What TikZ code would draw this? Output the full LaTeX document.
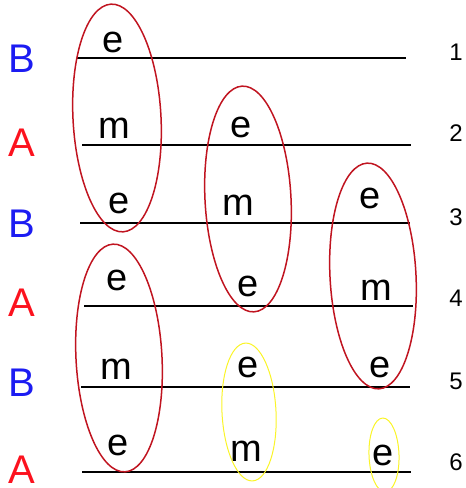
\documentclass[tikz,border=0pt]{standalone}
\usepackage{fontspec}
\setmainfont{Liberation Sans}
\usepackage{xcolor}
\definecolor{deepred}{RGB}{192,20,32}
\definecolor{brightred}{RGB}{252,18,30}
\definecolor{brightblue}{RGB}{28,28,242}
\definecolor{lemon}{RGB}{250,244,40}
\tikzset{
  sym/.style={anchor=base, inner sep=0pt, font=\fontsize{38}{38}\selectfont},
  sideA/.style={sym, text=brightred, font=\fontsize{40}{40}\selectfont},
  sideB/.style={sym, text=brightblue, font=\fontsize{40}{40}\selectfont},
  rowno/.style={anchor=base, inner sep=0pt, font=\fontsize{24}{24}\selectfont},
  rowline/.style={line width=1.8pt},
  group/.style={draw=deepred, line width=1.5pt},
  weak/.style={draw=lemon, line width=1pt},
}

\begin{document}
\begin{tikzpicture}[x=1pt, y=1pt]
  \useasboundingbox (0,0) rectangle (466,488);

  % rows
  \coordinate (l1w) at (77,430);  \coordinate (l1e) at (406,430);
  \coordinate (l2w) at (82,343);  \coordinate (l2e) at (411,343);
  \coordinate (l3w) at (80,265);  \coordinate (l3e) at (410,265);
  \coordinate (l4w) at (84,182);  \coordinate (l4e) at (413,182);
  \coordinate (l5w) at (81,101);  \coordinate (l5e) at (410,101);
  \coordinate (l6w) at (82,16);   \coordinate (l6e) at (411,16);

  \draw[rowline] (l1w) -- (l1e);
  \draw[rowline] (l2w) -- (l2e);
  \draw[rowline] (l3w) -- (l3e);
  \draw[rowline] (l4w) -- (l4e);
  \draw[rowline] (l5w) -- (l5e);
  \draw[rowline] (l6w) -- (l6e);

  % side labels
  \node[sideB] (s1) at (22,415) {B};
  \node[sideA] (s2) at (22,331) {A};
  \node[sideB] (s3) at (22,250) {B};
  \node[sideA] (s4) at (22,171) {A};
  \node[sideB] (s5) at (22,91)  {B};
  \node[sideA] (s6) at (22,5)   {A};

  % row numbers
  \node[rowno] (n1) at (456,427) {1};
  \node[rowno] (n2) at (456,346) {2};
  \node[rowno] (n3) at (456,262) {3};
  \node[rowno] (n4) at (456,181) {4};
  \node[rowno] (n5) at (456,98)  {5};
  \node[rowno] (n6) at (456,17)  {6};

  % symbols
  \node[sym] (a1) at (113,435) {e};
  \node[sym] (a2) at (114,349) {m};
  \node[sym] (a3) at (119,274) {e};
  \node[sym] (a4) at (117,197) {e};
  \node[sym] (a5) at (116,108) {m};
  \node[sym] (a6) at (118,32)  {e};

  \node[sym] (b2) at (241,350) {e};
  \node[sym] (b3) at (238,272) {m};
  \node[sym] (b4) at (248,191) {e};
  \node[sym] (b5) at (248,110) {e};
  \node[sym] (b6) at (246,27)  {m};

  \node[sym] (c3) at (370,279) {e};
  \node[sym] (c4) at (376,187) {m};
  \node[sym] (c5) at (380,110) {e};
  \node[sym] (c6) at (383,23)  {e};

  % groups
  \draw[group] (117,370) ellipse [x radius=44, y radius=114, rotate=3];
  \draw[group] (248,289) ellipse [x radius=43, y radius=113, rotate=3];
  \draw[group] (373,212) ellipse [x radius=43, y radius=113, rotate=3];
  \draw[group] (119,130) ellipse [x radius=43, y radius=114, rotate=3];
  \draw[weak]  (249,76)  ellipse [x radius=27, y radius=69, rotate=3];
  \draw[weak]  (384,33)  ellipse [x radius=15, y radius=37, rotate=2];
\end{tikzpicture}
\end{document}
